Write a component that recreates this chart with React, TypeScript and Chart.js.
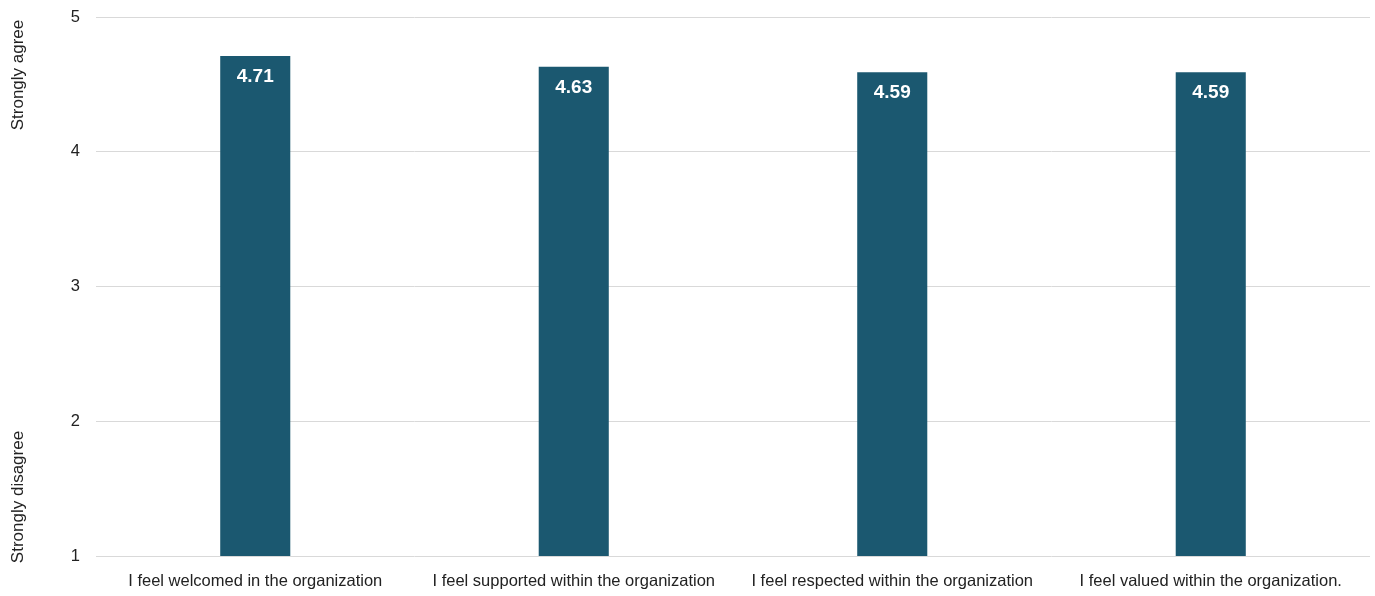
import React, { useEffect, useRef } from "react";
import { Chart, registerables } from "chart.js";

Chart.register(...registerables);

const categories = [
  "I feel welcomed in the organization",
  "I feel supported within the organization",
  "I feel respected within the organization",
  "I feel valued within the organization.",
];
const values = [4.71, 4.63, 4.59, 4.59];
const yTicks = [1, 2, 3, 4, 5];
const sideLabels = ["Strongly agree", "Strongly disagree"];

const FONT = "'Liberation Sans Narrow', 'Arial Narrow', 'Liberation Sans', Arial, sans-serif";
const BAR_COLOR = "#1b5870";

const overlayPlugin = {
  id: "overlay",
  afterDatasetsDraw(chart: any) {
    const ctx = chart.ctx;
    const meta = chart.getDatasetMeta(0);
    ctx.save();
    ctx.fillStyle = "#ffffff";
    ctx.font = `bold 19px ${FONT}`;
    ctx.textAlign = "center";
    ctx.textBaseline = "middle";
    meta.data.forEach((bar: any, i: number) => {
      ctx.fillText(values[i].toFixed(2), bar.x, bar.y + 21);
    });
    ctx.restore();

    const y = chart.scales.y;
    ctx.save();
    ctx.fillStyle = "#222222";
    ctx.font = `17px ${FONT}`;
    ctx.textAlign = "center";
    ctx.textBaseline = "middle";
    const drawRot = (text: string, cx: number, cy: number) => {
      ctx.save();
      ctx.translate(cx, cy);
      ctx.rotate(-Math.PI / 2);
      ctx.fillText(text, 0, 0);
      ctx.restore();
    };
    drawRot(sideLabels[0], 18, y.getPixelForValue(5) + 58);
    drawRot(sideLabels[1], 18, y.getPixelForValue(1) - 59);
    ctx.restore();
  },
};

export default function App() {
  const ref = useRef<HTMLCanvasElement | null>(null);
  useEffect(() => {
    if (!ref.current) return;
    const chart = new Chart(ref.current, {
      type: "bar",
      data: {
        labels: categories,
        datasets: [
          {
            data: values,
            backgroundColor: BAR_COLOR,
            barPercentage: 0.22,
            categoryPercentage: 1,
          },
        ],
      },
      options: {
        animation: false,
        responsive: false,
        maintainAspectRatio: false,
        layout: { padding: { top: 17, right: 5, left: 0, bottom: 0 } },
        plugins: { legend: { display: false }, tooltip: { enabled: false } },
        scales: {
          x: {
            grid: { display: false, drawTicks: false },
            border: { display: false },
            ticks: {
              color: "#222222",
              font: { family: FONT, size: 16.5 },
              padding: 16,
              maxRotation: 0,
              autoSkip: false,
            },
            afterFit(scale: any) {
              scale.height = 40;
              scale.paddingLeft = 0;
              scale.paddingRight = 0;
            },
          },
          y: {
            min: 1,
            max: 5,
            afterBuildTicks(scale: any) {
              scale.ticks = yTicks.map((v) => ({ value: v }));
            },
            grid: { color: "#d9d9d9", drawTicks: false, lineWidth: 1 },
            border: { display: false },
            ticks: {
              color: "#222222",
              font: { family: FONT, size: 16.5 },
              padding: 16,
            },
            afterFit(scale: any) {
              scale.width = 96;
              scale.paddingTop = 0;
              scale.paddingBottom = 0;
            },
          },
        },
      },
      plugins: [overlayPlugin],
    });
    return () => chart.destroy();
  }, []);
  return (
    <div style={{ position: "fixed", left: 0, top: 0, width: 1375, height: 596, background: "#fff" }}>
      <canvas ref={ref} width={1375} height={596} style={{ display: "block" }} />
    </div>
  );
}
